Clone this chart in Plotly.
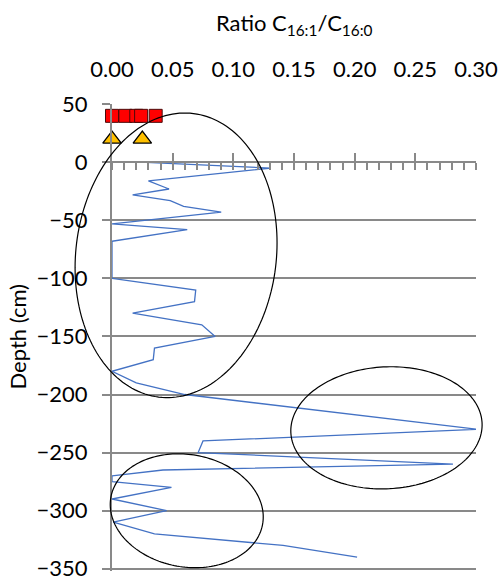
import numpy as np
import plotly.graph_objects as go

# Depth profile of the C16:1 / C16:0 fatty-acid ratio
depth_cm = [0, -5, -16, -23, -28, -33, -38, -43, -53, -58, -68,
            -100, -110, -120, -130, -140, -150, -160, -170, -180, -190,
            -200, -230, -240, -250, -260, -265, -270, -275, -280, -290,
            -300, -310, -320, -330, -340]
ratio = [0.028, 0.131, 0.030, 0.047, 0.017, 0.048, 0.059, 0.090, 0.000, 0.062, 0.000,
         0.000, 0.069, 0.068, 0.017, 0.074, 0.085, 0.035, 0.034, 0.000, 0.020,
         0.060, 0.301, 0.075, 0.071, 0.281, 0.042, 0.000, 0.000, 0.049, 0.000,
         0.045, 0.001, 0.035, 0.141, 0.202]

# Reference samples plotted above the sediment surface
square_ratio = [0.000, 0.011, 0.020, 0.024, 0.036]
square_depth = [40, 40, 40, 40, 40]
triangle_ratio = [0.000, 0.025]
triangle_depth = [20, 20]

x_tickvals = [0.00, 0.05, 0.10, 0.15, 0.20, 0.25, 0.30]
x_ticktext = ["0.00", "0.05", "0.10", "0.15", "0.20", "0.25", "0.30"]
y_tickvals = [50, 0, -50, -100, -150, -200, -250, -300, -350]

# Highlighted groups: centre (ratio, depth), semi-axes (ratio, cm), tilt in degrees
group_ratio_c = [0.0528, 0.2262, 0.0616]
group_depth_c = [-80.1, -228.7, -300.1]
group_ratio_r = [0.0826, 0.0789, 0.0635]
group_depth_r = [123.0, 52.5, 48.4]
group_tilt = [7.0, -3.0, 10.0]

W, H = 501, 580
M_L, M_R, M_T, M_B = 112, 25, 104, 9
X_RANGE = [0.0, 0.30]
Y_RANGE = [-352.0, 50.2]
PLOT_W = W - M_L - M_R
PLOT_H = H - M_T - M_B
GRAY = "#898989"
FONT = "Lato, Carlito, Calibri, sans-serif"


def ellipse_path(cx, cy, rx, ry, tilt):
    """Closed path (paper coordinates) of a tilted ellipse given in data units."""
    sx = PLOT_W / (X_RANGE[1] - X_RANGE[0])
    sy = PLOT_H / (Y_RANGE[1] - Y_RANGE[0])
    th = np.radians(tilt)
    t = np.linspace(0, 2 * np.pi, 181)
    ex = rx * sx * np.cos(t)
    ey = ry * sy * np.sin(t)
    # rotate on screen (y pointing down), positive tilt = clockwise
    xr = ex * np.cos(th) - ey * np.sin(th)
    yr = ex * np.sin(th) + ey * np.cos(th)
    px = (cx - X_RANGE[0]) * sx + xr
    py = (cy - Y_RANGE[0]) * sy - yr
    xp = px / PLOT_W
    yp = py / PLOT_H
    pts = [f"{a:.5f},{b:.5f}" for a, b in zip(xp, yp)]
    return "M" + " L".join(pts) + " Z"


fig = go.Figure()

fig.add_trace(go.Scatter(
    x=ratio, y=depth_cm, mode="lines",
    line=dict(color="#4472C4", width=1.3),
    xaxis="x", yaxis="y", hoverinfo="skip",
))

fig.add_trace(go.Scatter(
    x=square_ratio, y=square_depth, mode="markers", cliponaxis=False,
    marker=dict(symbol="square", size=13, color="#FF0000",
                line=dict(color="#4a0a0a", width=1)),
    xaxis="x2", yaxis="y", hoverinfo="skip",
))

fig.add_trace(go.Scatter(
    x=triangle_ratio, y=triangle_depth, mode="markers", cliponaxis=False,
    marker=dict(symbol="triangle-up", size=16, color="#FFC000",
                line=dict(color="#000000", width=1.3)),
    xaxis="x3", yaxis="y", hoverinfo="skip",
))

shapes = []
for cx, cy, rx, ry, tl in zip(group_ratio_c, group_depth_c, group_ratio_r,
                              group_depth_r, group_tilt):
    shapes.append(dict(type="path", xref="paper", yref="paper",
                       path=ellipse_path(cx, cy, rx, ry, tl),
                       line=dict(color="#000000", width=1.2),
                       fillcolor="rgba(0,0,0,0)", layer="above"))

zero_pos = (0 - Y_RANGE[0]) / (Y_RANGE[1] - Y_RANGE[0])

fig.update_layout(
    width=W, height=H,
    margin=dict(l=M_L, r=M_R, t=M_T, b=M_B, pad=0, autoexpand=False),
    paper_bgcolor="white", plot_bgcolor="white",
    showlegend=False,
    font=dict(family=FONT, size=22, color="#000000"),
    xaxis=dict(
        range=X_RANGE, side="top", tickmode="array",
        tickvals=x_tickvals, ticktext=x_ticktext,
        ticks="", showline=False, showgrid=False, zeroline=False,
        ticklabelstandoff=22, tickfont=dict(size=22),
        ticklabeloverflow="allow", automargin=False,
    ),
    xaxis2=dict(
        range=X_RANGE, overlaying="x", anchor="free", position=zero_pos,
        side="bottom", showline=True, linecolor=GRAY, linewidth=2,
        tickmode="linear", tick0=0, dtick=0.05,
        ticks="outside", ticklen=7, tickwidth=1.5, tickcolor=GRAY,
        showticklabels=False, showgrid=False, zeroline=False,
        minor=dict(ticks="outside", ticklen=7, tickwidth=1.5,
                   tickcolor=GRAY, dtick=0.01, showgrid=False),
        automargin=False,
    ),
    xaxis3=dict(
        range=X_RANGE, overlaying="x", anchor="free", position=zero_pos,
        side="bottom", showline=False,
        tickmode="linear", tick0=0, dtick=0.05,
        ticks="inside", ticklen=9, tickwidth=1.5, tickcolor=GRAY,
        showticklabels=False, showgrid=False, zeroline=False,
        automargin=False,
    ),
    yaxis=dict(
        range=Y_RANGE, tickmode="array", tickvals=y_tickvals,
        showline=True, linecolor=GRAY, linewidth=2,
        ticks="outside", ticklen=8, tickwidth=1.5, tickcolor=GRAY,
        showgrid=True, gridcolor=GRAY, gridwidth=1.5, zeroline=False,
        ticklabelstandoff=10, tickfont=dict(size=22),
        ticklabeloverflow="allow", automargin=False,
    ),
    shapes=shapes,
    annotations=[
        dict(text="Ratio C<sub>16:1</sub>/C<sub>16:0</sub>",
             xref="paper", yref="paper", x=0.5, y=1, xanchor="center",
             yanchor="middle", yshift=80, showarrow=False,
             font=dict(size=22)),
        dict(text="Depth (cm)", xref="paper", yref="paper",
             x=(17 - M_L) / PLOT_W, y=0.5, xanchor="center", yanchor="middle",
             textangle=-90, showarrow=False, font=dict(size=22)),
    ],
)

fig.write_html("out.html")
